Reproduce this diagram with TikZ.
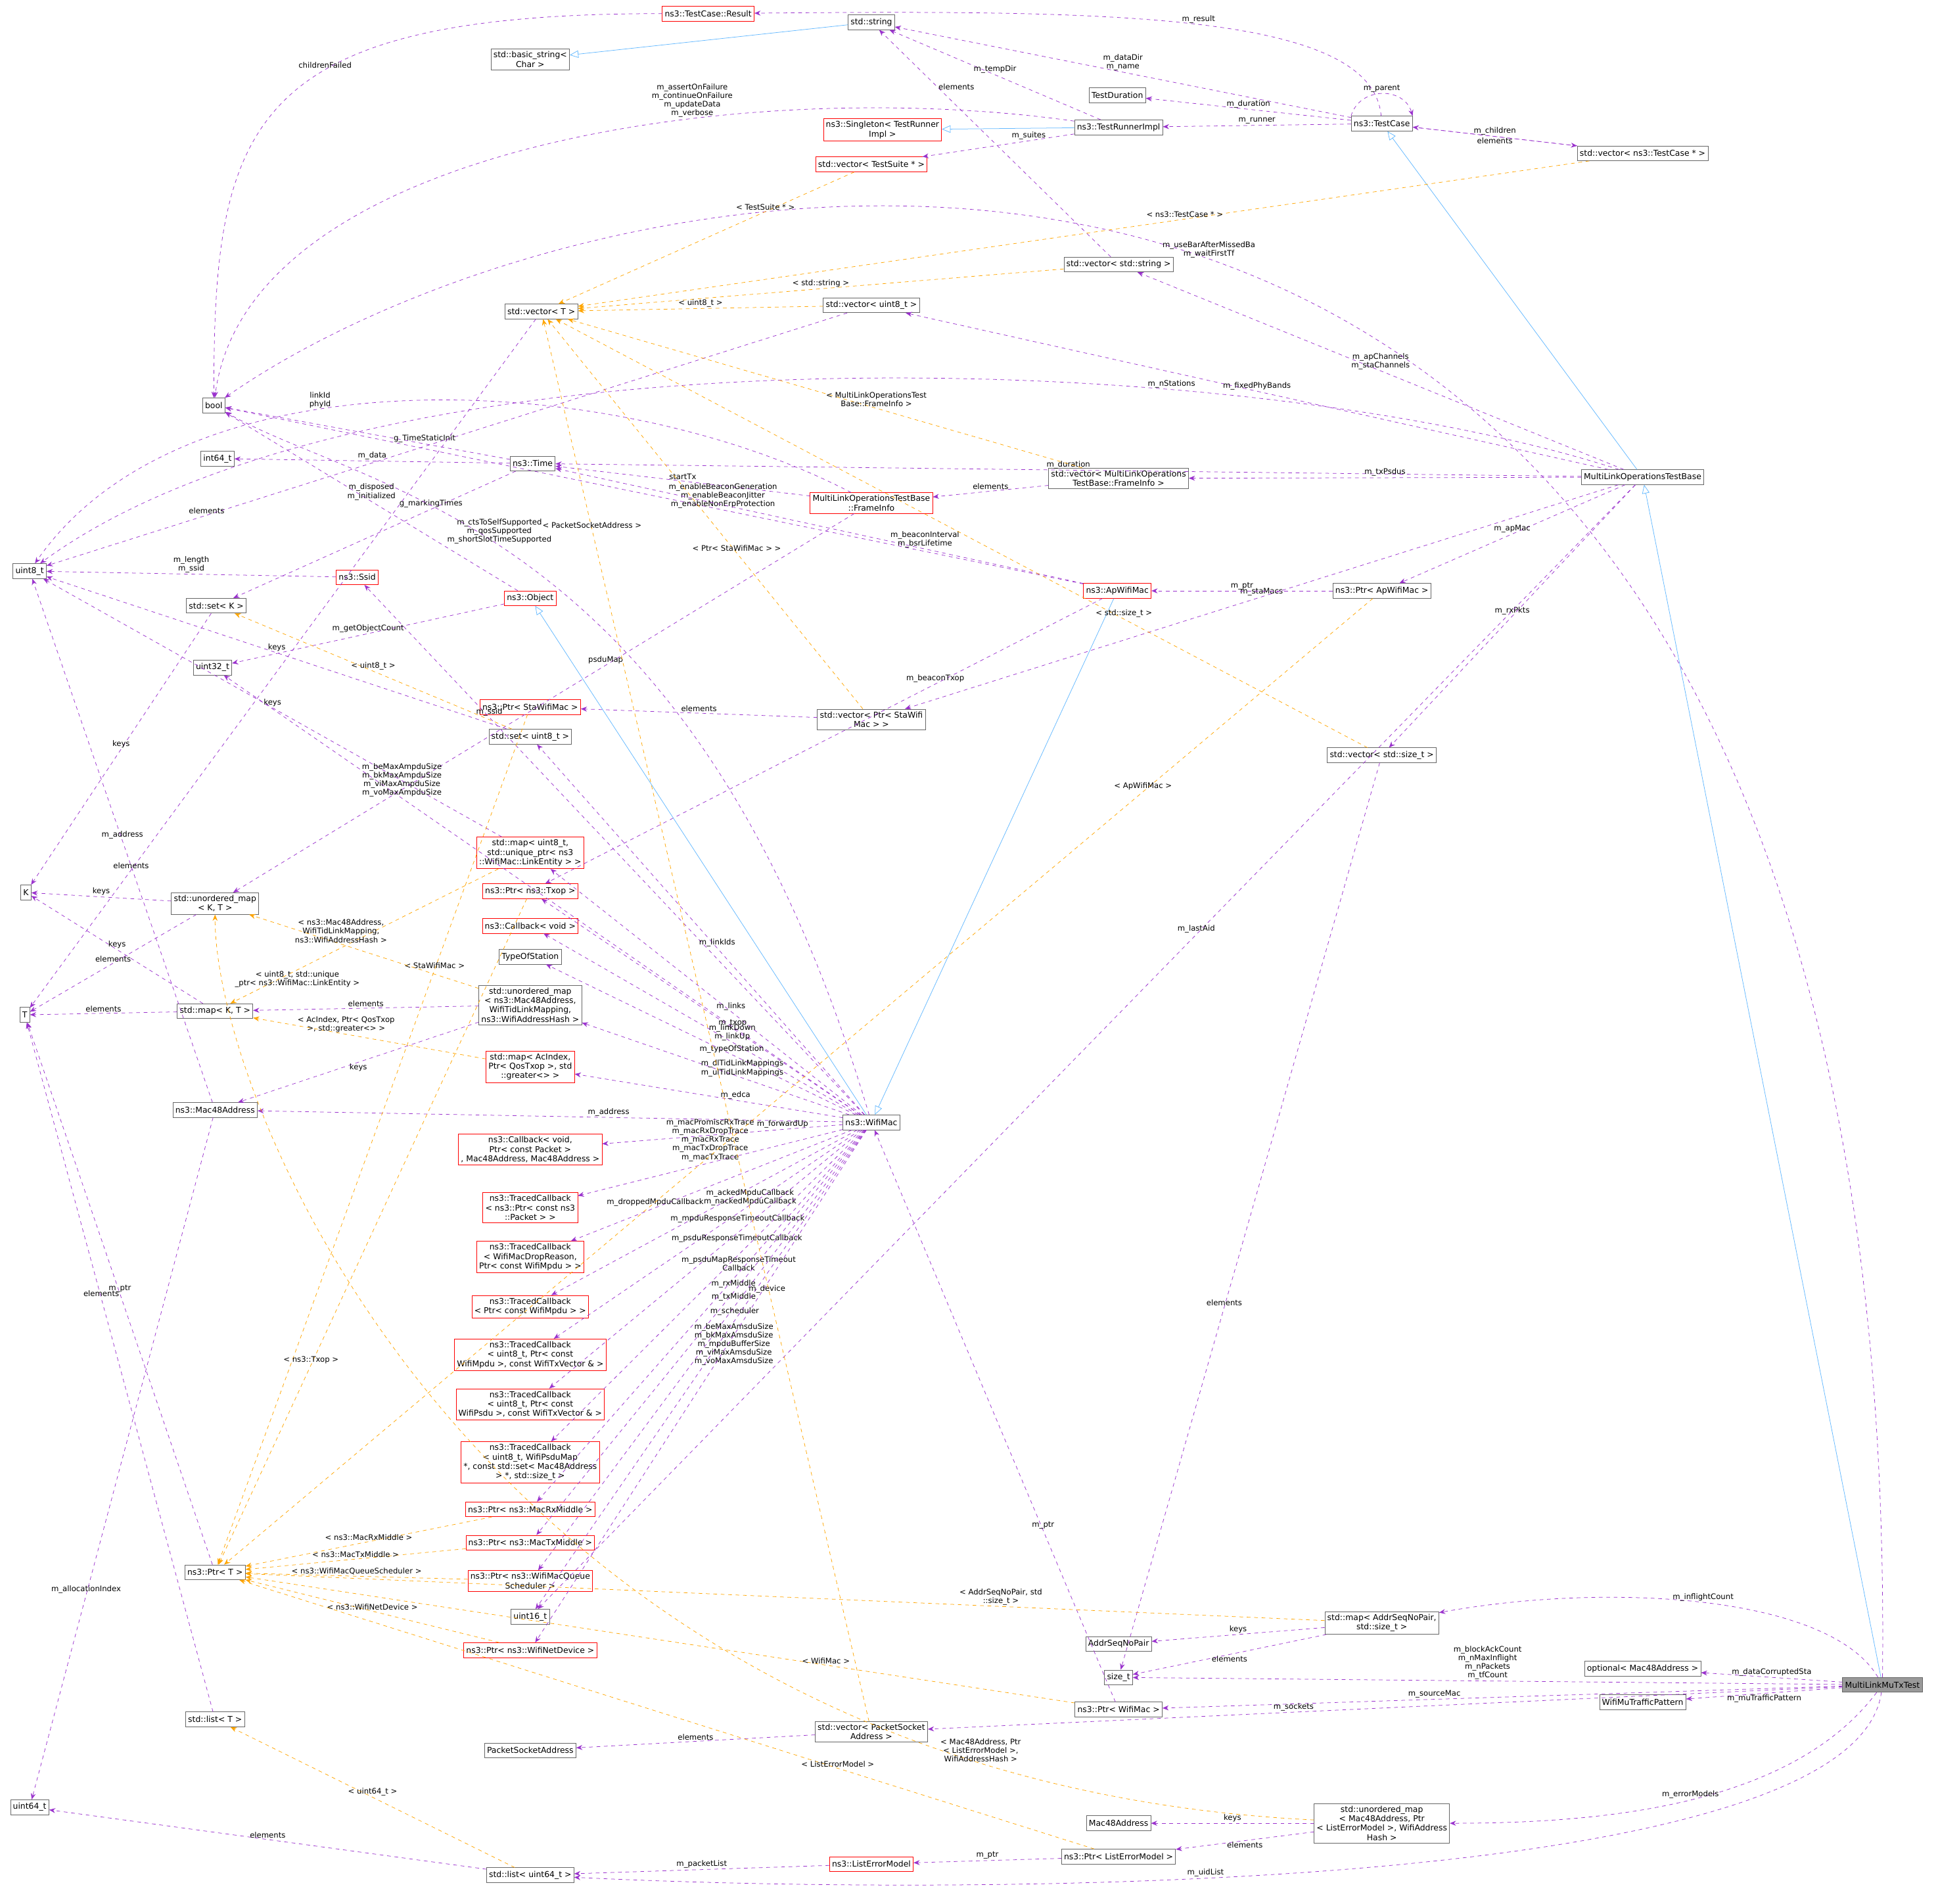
\documentclass[tikz,border=0pt]{standalone}
\usepackage{fontspec}
\setmainfont{DejaVu Sans}
\usepackage{tikz}
\usepackage{xcolor}
\usetikzlibrary{arrows.meta}
\definecolor{usecol}{HTML}{9A32CD}
\definecolor{tplcol}{HTML}{FFA500}
\definecolor{inhcol}{HTML}{63B8FF}
\definecolor{redfill}{HTML}{FFF0F0}
\tikzset{
  cls/.style={draw=black!60, fill=white, inner sep=2pt, font=\fontsize{6.6}{7.6}\selectfont, align=center, minimum height=12pt},
  redcls/.style={cls, draw=red},
  usage/.style={draw=usecol, dashed, -{Stealth[length=5pt,width=4pt]}},
  tmpl/.style={draw=tplcol, dashed, -{Stealth[length=5pt,width=4pt]}},
  inh/.style={draw=inhcol, -{Triangle[open,length=7pt,width=6pt]}},
  lbl/.style={midway, above, sloped=false, font=\fontsize{6.2}{7}\selectfont, align=center, text=black, inner sep=1pt}
}
\begin{document}
\begin{tikzpicture}[x=1pt,y=-1pt]
        \useasboundingbox (0,0) rectangle (1568,1540);
        % test framework
        \node[redcls] (tcResult) at (573,11) {ns3::TestCase::Result};
        \node[cls] (basicStr) at (429,48) {std::basic\_string\textless\\Char \textgreater};
        \node[cls] (stdString) at (705,18) {std::string};
        \node[cls] (testDur) at (904,77) {TestDuration};
        \node[cls] (testCase) at (1118,100) {ns3::TestCase};
        \node[redcls] (singleton) at (714,105) {ns3::Singleton\textless{} TestRunner\\Impl \textgreater};
        \node[cls] (runnerImpl) at (905,103) {ns3::TestRunnerImpl};
        \node[redcls] (vecSuite) at (705,133) {std::vector\textless{} TestSuite * \textgreater};
        \node[cls] (vecCase) at (1329,124) {std::vector\textless{} ns3::TestCase * \textgreater};
        \node[cls] (vecString) at (905,214) {std::vector\textless{} std::string \textgreater};
        \node[cls] (vecU8) at (705,247) {std::vector\textless{} uint8\_t \textgreater};
        \node[cls] (vecT) at (438,252) {std::vector\textless{} T \textgreater};
        \node[cls] (boolT) at (173,328) {bool};
        \node[cls] (int64T) at (176,371) {int64\_t};
        \node[cls] (timeT) at (431,375) {ns3::Time};
        \node[cls] (vecFrame) at (905,387) {std::vector\textless{} MultiLinkOperations\\TestBase::FrameInfo \textgreater};
        \node[redcls] (frameInfo) at (705,407) {MultiLinkOperationsTestBase\\::FrameInfo};
        \node[cls] (mlotb) at (1329,386) {MultiLinkOperationsTestBase};
        \node[cls] (uint8T) at (24,462) {uint8\_t};
        \node[redcls] (ssid) at (289,467) {ns3::Ssid};
        \node[cls] (setK) at (175,490) {std::set\textless{} K \textgreater};
        \node[redcls] (object) at (429,484) {ns3::Object};
        \node[redcls] (apMac) at (904,478) {ns3::ApWifiMac};
        \node[cls] (ptrAp) at (1118,478) {ns3::Ptr\textless{} ApWifiMac \textgreater};
        \node[cls] (uint32T) at (172,540) {uint32\_t};
        \node[redcls] (ptrSta) at (429,572) {ns3::Ptr\textless{} StaWifiMac \textgreater};
        \node[cls] (vecSta) at (705,582) {std::vector\textless{} Ptr\textless{} StaWifi\\Mac \textgreater{} \textgreater};
        \node[cls] (setU8) at (429,596) {std::set\textless{} uint8\_t \textgreater};
        \node[cls] (vecSize) at (1118,611) {std::vector\textless{} std::size\_t \textgreater};
        \node[redcls] (mapLink) at (429,690) {std::map\textless{} uint8\_t,\\std::unique\_ptr\textless{} ns3\\::WifiMac::LinkEntity \textgreater{} \textgreater};
        \node[cls] (kT) at (21,722) {K};
        \node[redcls] (ptrTxop) at (429,721) {ns3::Ptr\textless{} ns3::Txop \textgreater};
        \node[cls] (umapKT) at (174,731) {std::unordered\_map\\\textless{} K, T \textgreater};
        \node[redcls] (cbVoid) at (429,749) {ns3::Callback\textless{} void \textgreater};
        \node[cls] (typeSta) at (429,774) {TypeOfStation};
        \node[cls] (tT) at (20,821) {T};
        \node[cls] (mapKT) at (174,818) {std::map\textless{} K, T \textgreater};
        \node[cls] (umapMac) at (429,813) {std::unordered\_map\\\textless{} ns3::Mac48Address,\\WifiTidLinkMapping,\\ns3::WifiAddressHash \textgreater};
        \node[redcls] (mapAc) at (429,863) {std::map\textless{} AcIndex,\\Ptr\textless{} QosTxop \textgreater, std\\::greater\textless\textgreater{} \textgreater};
        \node[cls] (mac48) at (174,898) {ns3::Mac48Address};
        \node[cls] (wifiMac) at (705,908) {ns3::WifiMac};
        \node[redcls] (cbFwd) at (429,930) {ns3::Callback\textless{} void,\\Ptr\textless{} const Packet \textgreater\\, Mac48Address, Mac48Address \textgreater};
        \node[redcls] (tcPkt) at (429,977) {ns3::TracedCallback\\\textless{} ns3::Ptr\textless{} const ns3\\::Packet \textgreater{} \textgreater};
        \node[redcls] (tcDrop) at (429,1017) {ns3::TracedCallback\\\textless{} WifiMacDropReason,\\Ptr\textless{} const WifiMpdu \textgreater{} \textgreater};
        \node[redcls] (tcMpdu) at (429,1057) {ns3::TracedCallback\\\textless{} Ptr\textless{} const WifiMpdu \textgreater{} \textgreater};
        \node[redcls] (tcMpduResp) at (429,1096) {ns3::TracedCallback\\\textless{} uint8\_t, Ptr\textless{} const\\WifiMpdu \textgreater, const WifiTxVector \& \textgreater};
        \node[redcls] (tcPsdu) at (429,1136) {ns3::TracedCallback\\\textless{} uint8\_t, Ptr\textless{} const\\WifiPsdu \textgreater, const WifiTxVector \& \textgreater};
        \node[redcls] (tcPsduMap) at (429,1183) {ns3::TracedCallback\\\textless{} uint8\_t, WifiPsduMap\\*, const std::set\textless{} Mac48Address\\\textgreater{} *, std::size\_t \textgreater};
        \node[redcls] (ptrRx) at (429,1221) {ns3::Ptr\textless{} ns3::MacRxMiddle \textgreater};
        \node[redcls] (ptrTx) at (429,1248) {ns3::Ptr\textless{} ns3::MacTxMiddle \textgreater};
        \node[redcls] (ptrSched) at (429,1279) {ns3::Ptr\textless{} ns3::WifiMacQueue\\Scheduler \textgreater};
        \node[cls] (ptrT) at (174,1272) {ns3::Ptr\textless{} T \textgreater};
        \node[cls] (uint16T) at (429,1308) {uint16\_t};
        \node[redcls] (ptrDev) at (429,1335) {ns3::Ptr\textless{} ns3::WifiNetDevice \textgreater};
        \node[cls] (mapAddr) at (1118,1313) {std::map\textless{} AddrSeqNoPair,\\std::size\_t \textgreater};
        \node[cls] (addrSeq) at (905,1330) {AddrSeqNoPair};
        \node[cls] (sizeT) at (905,1357) {size\_t};
        \node[cls] (optMac) at (1329,1350) {optional\textless{} Mac48Address \textgreater};
        \node[cls, fill=black!40] (muTx) at (1523,1363) {MultiLinkMuTxTest};
        \node[cls] (muTraffic) at (1329,1377) {WifiMuTrafficPattern};
        \node[cls] (ptrWifiMac) at (905,1383) {ns3::Ptr\textless{} WifiMac \textgreater};
        \node[cls] (listT) at (174,1391) {std::list\textless{} T \textgreater};
        \node[cls] (vecPSA) at (705,1401) {std::vector\textless{} PacketSocket\\Address \textgreater};
        \node[cls] (psa) at (429,1416) {PacketSocketAddress};
        \node[cls] (uint64T) at (24,1462) {uint64\_t};
        \node[cls] (macAddr) at (905,1475) {Mac48Address};
        \node[cls] (umapErr) at (1118,1475) {std::unordered\_map\\\textless{} Mac48Address, Ptr\\\textless{} ListErrorModel \textgreater, WifiAddress\\Hash \textgreater};
        \node[cls] (ptrErr) at (905,1502) {ns3::Ptr\textless{} ListErrorModel \textgreater};
        \node[redcls] (listErr) at (705,1508) {ns3::ListErrorModel};
        \node[cls] (listU64) at (429,1517) {std::list\textless{} uint64\_t \textgreater};

        % inheritance
        \draw[inh] (stdString) -- (basicStr);
        \draw[inh] (runnerImpl) -- (singleton);
        \draw[inh] (mlotb) -- (testCase);
        \draw[inh] (muTx) -- (mlotb);
        \draw[inh] (wifiMac) -- (object);
        \draw[inh] (apMac) -- (wifiMac);

        % members
        \draw[usage] (testCase) .. controls (1110,10) and (900,8) .. node[lbl,pos=0.5]{m\_result} (tcResult);
        \draw[usage] (testCase) -- node[lbl]{m\_dataDir\\m\_name} (stdString);
        \draw[usage] (runnerImpl) -- node[lbl]{m\_tempDir} (stdString);
        \draw[usage] (testCase) -- node[lbl]{m\_duration} (testDur);
        \draw[usage] (testCase.north west) .. controls (1100,70) and (1136,70) .. node[lbl]{m\_parent} (testCase.north east);
        \draw[usage] (testCase) -- node[lbl]{m\_runner} (runnerImpl);
        \draw[usage] (testCase) -- node[lbl]{m\_children} (vecCase);
        \draw[usage] (vecCase) -- node[lbl,below]{elements} (testCase);
        \draw[usage] (runnerImpl) .. controls (600,60) and (200,120) .. node[lbl,pos=0.35]{m\_assertOnFailure\\m\_continueOnFailure\\m\_updateData\\m\_verbose} (boolT);
        \draw[usage] (runnerImpl) -- node[lbl,pos=0.3]{m\_suites} (vecSuite);
        \draw[usage] (vecString) -- node[lbl,pos=0.75,right]{elements} (stdString);
        \draw[usage] (tcResult) .. controls (200,11) and (173,100) .. node[lbl,pos=0.4,above]{childrenFailed} (boolT);
        \draw[usage] (mlotb) -- node[lbl]{m\_apChannels\\m\_staChannels} (vecString);
        \draw[usage] (mlotb) -- node[lbl]{m\_fixedPhyBands} (vecU8);
        \draw[usage] (mlotb) .. controls (1000,280) and (300,260) .. node[lbl,pos=0.3]{m\_nStations} (uint8T);
        \draw[usage] (vecU8) -- node[lbl,pos=0.8]{elements} (uint8T);
        \draw[usage] (vecT) -- node[lbl,pos=0.8]{elements} (tT);
        \draw[usage] (muTx) .. controls (1540,-100) and (500,100) .. node[lbl,pos=0.5]{m\_useBarAfterMissedBa\\m\_waitFirstTf} (boolT);
        \draw[usage] (mlotb) -- node[lbl]{m\_duration} (timeT);
        \draw[usage] (mlotb) -- node[lbl]{m\_txPsdus} (vecFrame);
        \draw[usage] (vecFrame) -- node[lbl]{elements} (frameInfo);
        \draw[usage] (mlotb) -- node[lbl]{m\_apMac} (ptrAp);
        \draw[usage] (mlotb) -- node[lbl]{m\_staMacs} (vecSta);
        \draw[usage] (mlotb) -- node[lbl]{m\_rxPkts} (vecSize);
        \draw[usage] (mlotb) -- node[lbl,pos=0.4]{m\_lastAid} (uint16T);
        \draw[usage] (timeT) -- node[lbl]{m\_data} (int64T);
        \draw[usage] (timeT) -- node[lbl,pos=0.3]{g\_TimeStaticInit} (boolT);
        \draw[usage] (timeT) -- node[lbl,pos=0.3]{g\_markingTimes} (setK);
        \draw[usage] (frameInfo) .. controls (500,300) and (150,280) .. node[lbl,pos=0.6]{linkId\\phyId} (uint8T);
        \draw[usage] (frameInfo) -- node[lbl]{startTx} (timeT);
        \draw[usage] (frameInfo) -- node[lbl,pos=0.4]{psduMap} (umapKT);
        \draw[usage] (ptrAp) -- node[lbl]{m\_ptr} (apMac);
        \draw[usage] (apMac) -- node[lbl,pos=0.42]{m\_enableBeaconGeneration\\m\_enableBeaconJitter\\m\_enableNonErpProtection} (boolT);
        \draw[usage] (apMac) -- node[lbl,pos=0.3]{m\_beaconInterval\\m\_bsrLifetime} (timeT);
        \draw[usage] (apMac) -- node[lbl,pos=0.3]{m\_beaconTxop} (ptrTxop);
        \draw[usage] (ssid) -- node[lbl]{m\_length\\m\_ssid} (uint8T);
        \draw[usage] (setK) -- node[lbl]{keys} (kT);
        \draw[usage] (object) -- node[lbl]{m\_disposed\\m\_initialized} (boolT);
        \draw[usage] (object) -- node[lbl]{m\_getObjectCount} (uint32T);
        \draw[usage] (vecSta) -- node[lbl]{elements} (ptrSta);
        \draw[usage] (setU8) -- node[lbl]{keys} (uint8T);
        \draw[usage] (mapLink) -- node[lbl]{keys} (uint8T);
        \draw[usage] (umapKT) -- node[lbl]{keys} (kT);
        \draw[usage] (umapKT) -- node[lbl]{elements} (tT);
        \draw[usage] (mapKT) -- node[lbl]{keys} (kT);
        \draw[usage] (mapKT) -- node[lbl]{elements} (tT);
        \draw[usage] (umapMac) -- node[lbl]{elements} (mapKT);
        \draw[usage] (umapMac) -- node[lbl,below]{keys} (mac48);
        \draw[usage] (mac48) -- node[lbl]{m\_address} (uint8T);
        \draw[usage] (mac48) -- node[lbl,pos=0.7]{m\_allocationIndex} (uint64T);
        \draw[usage] (ptrT) -- node[lbl]{m\_ptr} (tT);
        \draw[usage] (listT) -- node[lbl,pos=0.6]{elements} (tT);
        \draw[usage] (wifiMac) -- node[lbl,pos=0.75]{m\_ssid} (ssid);
        \draw[usage] (wifiMac) -- node[lbl,pos=0.72]{m\_beMaxAmpduSize\\m\_bkMaxAmpduSize\\m\_viMaxAmpduSize\\m\_voMaxAmpduSize} (uint32T);
        \draw[usage] (wifiMac) -- node[lbl,pos=0.45]{m\_linkIds} (setU8);
        \draw[usage] (wifiMac) -- node[lbl,pos=0.42]{m\_links} (mapLink);
        \draw[usage] (wifiMac) -- node[lbl,pos=0.4]{m\_txop} (ptrTxop);
        \draw[usage] (wifiMac) -- node[lbl,pos=0.4]{m\_linkDown\\m\_linkUp} (cbVoid);
        \draw[usage] (wifiMac) -- node[lbl,pos=0.4]{m\_typeOfStation} (typeSta);
        \draw[usage] (wifiMac) -- node[lbl,pos=0.4]{m\_dlTidLinkMappings\\m\_ulTidLinkMappings} (umapMac);
        \draw[usage] (wifiMac) -- node[lbl,pos=0.4]{m\_edca} (mapAc);
        \draw[usage] (wifiMac) -- node[lbl,pos=0.4]{m\_address} (mac48);
        \draw[usage] (wifiMac) -- node[lbl,pos=0.25]{m\_forwardUp} (cbFwd);
        \draw[usage] (wifiMac) -- node[lbl,pos=0.5,above]{m\_macPromiscRxTrace\\m\_macRxDropTrace\\m\_macRxTrace\\m\_macTxDropTrace\\m\_macTxTrace} (tcPkt);
        \draw[usage] (wifiMac) -- node[lbl,pos=0.7,above]{m\_droppedMpduCallback} (tcDrop);
        \draw[usage] (wifiMac) -- node[lbl,pos=0.35,below]{m\_ackedMpduCallback\\m\_nackedMpduCallback} (tcMpdu);
        \draw[usage] (wifiMac) -- node[lbl,pos=0.4,below]{m\_mpduResponseTimeoutCallback} (tcMpduResp);
        \draw[usage] (wifiMac) -- node[lbl,pos=0.4,below]{m\_psduResponseTimeoutCallback} (tcPsdu);
        \draw[usage] (wifiMac) -- node[lbl,pos=0.4,below]{m\_psduMapResponseTimeout\\Callback} (tcPsduMap);
        \draw[usage] (wifiMac) -- node[lbl,pos=0.4,below]{m\_rxMiddle} (ptrRx);
        \draw[usage] (wifiMac) -- node[lbl,pos=0.4,below]{m\_txMiddle} (ptrTx);
        \draw[usage] (wifiMac) -- node[lbl,pos=0.4,below]{m\_scheduler} (ptrSched);
        \draw[usage] (wifiMac) -- node[lbl,pos=0.4,below]{m\_beMaxAmsduSize\\m\_bkMaxAmsduSize\\m\_mpduBufferSize\\m\_viMaxAmsduSize\\m\_voMaxAmsduSize} (uint16T);
        \draw[usage] (wifiMac) -- node[lbl,pos=0.3,below]{m\_device} (ptrDev);
        \draw[usage] (wifiMac) .. controls (560,420) and (300,400) .. node[lbl,pos=0.55]{m\_ctsToSelfSupported\\m\_qosSupported\\m\_shortSlotTimeSupported} (boolT);
        \draw[usage] (ptrWifiMac) -- node[lbl,pos=0.3]{m\_ptr} (wifiMac);
        \draw[usage] (muTx) .. controls (1480,1290) and (1300,1280) .. node[lbl]{m\_inflightCount} (mapAddr);
        \draw[usage] (muTx) -- node[lbl]{m\_blockAckCount\\m\_nMaxInflight\\m\_nPackets\\m\_tfCount} (sizeT);
        \draw[usage] (muTx) -- node[lbl]{m\_dataCorruptedSta} (optMac);
        \draw[usage] (muTx) -- node[lbl,below]{m\_muTrafficPattern} (muTraffic);
        \draw[usage] (muTx) -- node[lbl,pos=0.6]{m\_sourceMac} (ptrWifiMac);
        \draw[usage] (muTx) -- node[lbl,pos=0.6]{m\_sockets} (vecPSA);
        \draw[usage] (muTx) .. controls (1450,1460) and (1300,1475) .. node[lbl]{m\_errorModels} (umapErr);
        \draw[usage] (muTx) .. controls (1500,1530) and (800,1535) .. node[lbl,pos=0.6]{m\_uidList} (listU64);
        \draw[usage] (mapAddr) -- node[lbl]{keys} (addrSeq);
        \draw[usage] (mapAddr) -- node[lbl,below]{elements} (sizeT);
        \draw[usage] (vecSize) -- node[lbl,pos=0.6]{elements} (sizeT);
        \draw[usage] (vecPSA) -- node[lbl]{elements} (psa);
        \draw[usage] (umapErr) -- node[lbl]{keys} (macAddr);
        \draw[usage] (umapErr) -- node[lbl,below]{elements} (ptrErr);
        \draw[usage] (ptrErr) -- node[lbl]{m\_ptr} (listErr);
        \draw[usage] (listErr) -- node[lbl]{m\_packetList} (listU64);
        \draw[usage] (listU64) -- node[lbl]{elements} (uint64T);

        % template instances
        \draw[tmpl] (vecSuite) -- node[lbl,pos=0.3]{\textless{} TestSuite * \textgreater} (vecT);
        \draw[tmpl] (vecCase) -- node[lbl,pos=0.4]{\textless{} ns3::TestCase * \textgreater} (vecT);
        \draw[tmpl] (vecString) -- node[lbl,pos=0.5]{\textless{} std::string \textgreater} (vecT);
        \draw[tmpl] (vecU8) -- node[lbl]{\textless{} uint8\_t \textgreater} (vecT);
        \draw[tmpl] (vecSta) -- node[lbl,pos=0.4]{\textless{} Ptr\textless{} StaWifiMac \textgreater{} \textgreater} (vecT);
        \draw[tmpl] (vecFrame) -- node[lbl,pos=0.4]{\textless{} MultiLinkOperationsTest\\Base::FrameInfo \textgreater} (vecT);
        \draw[tmpl] (vecPSA) -- node[lbl,pos=0.85]{\textless{} PacketSocketAddress \textgreater} (vecT);
        \draw[tmpl] (vecSize) -- node[lbl,pos=0.3]{\textless{} std::size\_t \textgreater} (vecT);
        \draw[tmpl] (setU8) -- node[lbl]{\textless{} uint8\_t \textgreater} (setK);
        \draw[tmpl] (ptrAp) -- node[lbl,pos=0.2]{\textless{} ApWifiMac \textgreater} (ptrT);
        \draw[tmpl] (ptrSta) -- node[lbl,pos=0.3]{\textless{} StaWifiMac \textgreater} (ptrT);
        \draw[tmpl] (ptrTxop) -- node[lbl,pos=0.7]{\textless{} ns3::Txop \textgreater} (ptrT);
        \draw[tmpl] (ptrRx) -- node[lbl]{\textless{} ns3::MacRxMiddle \textgreater} (ptrT);
        \draw[tmpl] (ptrTx) -- node[lbl]{\textless{} ns3::MacTxMiddle \textgreater} (ptrT);
        \draw[tmpl] (ptrSched) -- node[lbl]{\textless{} ns3::WifiMacQueueScheduler \textgreater} (ptrT);
        \draw[tmpl] (ptrDev) -- node[lbl]{\textless{} ns3::WifiNetDevice \textgreater} (ptrT);
        \draw[tmpl] (ptrWifiMac) -- node[lbl,pos=0.3]{\textless{} WifiMac \textgreater} (ptrT);
        \draw[tmpl] (ptrErr) -- node[lbl,pos=0.3]{\textless{} ListErrorModel \textgreater} (ptrT);
        \draw[tmpl] (mapAddr) -- node[lbl,pos=0.3]{\textless{} AddrSeqNoPair, std\\::size\_t \textgreater} (ptrT);
        \draw[tmpl] (mapLink) -- node[lbl,pos=0.75,below]{\textless{} uint8\_t, std::unique\\\_ptr\textless{} ns3::WifiMac::LinkEntity \textgreater} (mapKT);
        \draw[tmpl] (mapAc) -- node[lbl,pos=0.6]{\textless{} AcIndex, Ptr\textless{} QosTxop\\\textgreater, std::greater\textless\textgreater{} \textgreater} (mapKT);
        \draw[tmpl] (umapMac) -- node[lbl,pos=0.6]{\textless{} ns3::Mac48Address,\\WifiTidLinkMapping,\\ns3::WifiAddressHash \textgreater} (umapKT);
        \draw[tmpl] (umapErr) .. controls (400,1440) and (174,900) .. node[lbl,pos=0.15]{\textless{} Mac48Address, Ptr\\\textless{} ListErrorModel \textgreater,\\WifiAddressHash \textgreater} (umapKT);
        \draw[tmpl] (listU64) -- node[lbl]{\textless{} uint64\_t \textgreater} (listT);
    \end{tikzpicture}
\end{document}
